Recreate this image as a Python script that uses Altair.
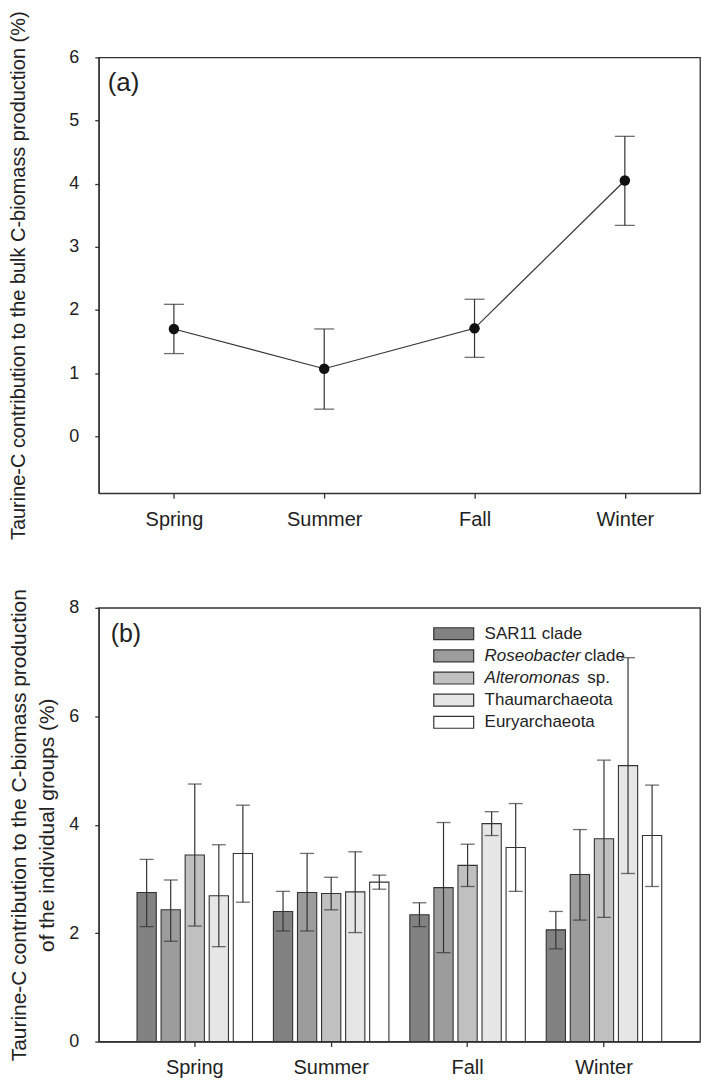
import altair as alt
import pandas as pd

# ---------------- data ----------------
seasons = ["Spring", "Summer", "Fall", "Winter"]

# panel (a): bulk contribution
bulk_mean = [1.70, 1.07, 1.71, 4.05]
bulk_low = [1.31, 0.43, 1.25, 3.34]
bulk_high = [2.09, 1.70, 2.17, 4.75]

# panel (b): individual groups
groups = ["SAR11 clade", "Roseobacter clade", "Alteromonas sp.", "Thaumarchaeota", "Euryarchaeota"]
italic_part = ["", "Roseobacter", "Alteromonas", "", ""]
plain_part = ["SAR11 clade", "clade", "sp.", "Thaumarchaeota", "Euryarchaeota"]
group_colors = ["#828282", "#9c9c9c", "#c0c0c0", "#e6e6e6", "#ffffff"]

sar11_mean = [2.75, 2.40, 2.34, 2.06]
sar11_low = [2.12, 2.04, 2.12, 1.71]
sar11_high = [3.36, 2.77, 2.56, 2.40]
roseo_mean = [2.43, 2.75, 2.84, 3.08]
roseo_low = [1.85, 2.04, 1.64, 2.24]
roseo_high = [2.98, 3.47, 4.04, 3.91]
altero_mean = [3.44, 2.73, 3.25, 3.74]
altero_low = [2.13, 2.43, 2.86, 2.29]
altero_high = [4.75, 3.03, 3.64, 5.19]
thaum_mean = [2.69, 2.76, 4.02, 5.09]
thaum_low = [1.75, 2.01, 3.80, 3.10]
thaum_high = [3.63, 3.50, 4.24, 7.08]
eury_mean = [3.47, 2.94, 3.58, 3.80]
eury_low = [2.57, 2.81, 2.77, 2.86]
eury_high = [4.36, 3.07, 4.39, 4.73]

group_means = [sar11_mean, roseo_mean, altero_mean, thaum_mean, eury_mean]
group_lows = [sar11_low, roseo_low, altero_low, thaum_low, eury_low]
group_highs = [sar11_high, roseo_high, altero_high, thaum_high, eury_high]

# ---------------- tables ----------------
df_a = pd.DataFrame({"season": seasons, "mean": bulk_mean, "low": bulk_low, "high": bulk_high})

rows = []
for g, m, lo, hi in zip(groups, group_means, group_lows, group_highs):
    for s, mv, lv, hv in zip(seasons, m, lo, hi):
        rows.append({"season": s, "group": g, "mean": mv, "low": lv, "high": hv})
df_b = pd.DataFrame(rows)

df_leg = pd.DataFrame({"group": groups, "italic": italic_part, "plain": plain_part})

FONT = "Liberation Sans"
INK = "#333333"
W = 603

# ---------------- panel (a) ----------------
title_a = "Taurine-C contribution to the bulk C-biomass production (%)"
HA = 437


def ya(field):
    return alt.Y(
        f"{field}:Q",
        scale=alt.Scale(domain=[-0.9, 6], nice=False, zero=False),
        axis=alt.Axis(values=[0, 1, 2, 3, 4, 5, 6], title=title_a, titlePadding=40,
                      titleFontSize=20, labelFontSize=18, tickSize=4,
                      labelPadding=16),
    )


xa = alt.X(
    "season:N", sort=seasons,
    scale=alt.Scale(type="point", padding=0.5),
    axis=alt.Axis(title=None, labelAngle=0, labelFontSize=20, tickSize=5, labelPadding=11),
)

base_a = alt.Chart(df_a)
line_a = base_a.mark_line(color=INK, strokeWidth=1.2).encode(x=xa, y=ya("mean"))
err_a = base_a.mark_rule(color=INK, strokeWidth=1.2).encode(x=xa, y=ya("low"), y2="high:Q")
cap_lo_a = base_a.mark_tick(color=INK, thickness=1.3, size=20, orient="horizontal").encode(x=xa, y=ya("low"))
cap_hi_a = base_a.mark_tick(color=INK, thickness=1.3, size=20, orient="horizontal").encode(x=xa, y=ya("high"))
pts_a = base_a.mark_circle(color="#111111", opacity=1, size=110).encode(x=xa, y=ya("mean"))
lab_a = alt.Chart(pd.DataFrame({"t": ["(a)"]})).mark_text(
    align="left", baseline="middle", fontSize=26, font=FONT, color="#222"
).encode(x=alt.value(9), y=alt.value(26), text="t:N")

panel_a = alt.layer(line_a, err_a, cap_lo_a, cap_hi_a, pts_a, lab_a).properties(width=W, height=HA)

# ---------------- panel (b) ----------------
title_b = ["Taurine-C contribution to the C-biomass production", "of the individual groups (%)"]


def yb(field, show=True):
    return alt.Y(
        f"{field}:Q",
        scale=alt.Scale(domain=[0, 8], nice=False),
        axis=alt.Axis(values=[0, 2, 4, 6, 8], title=title_b, titlePadding=11,
                      titleFontSize=21, titleLineHeight=28, labelFontSize=18,
                      tickSize=4, labelPadding=16) if show else None,
    )


xb = alt.X(
    "season:N", sort=seasons,
    scale=alt.Scale(paddingInner=0.118, paddingOuter=0.263),
    axis=alt.Axis(title=None, labelAngle=0, labelFontSize=20, tickSize=5, labelPadding=11),
)
xo = alt.XOffset("group:N", sort=groups, scale=alt.Scale(paddingInner=0.2, paddingOuter=0.1))
col = alt.Color("group:N", scale=alt.Scale(domain=groups, range=group_colors), legend=None)

base_b = alt.Chart(df_b)
bars = base_b.mark_bar(stroke=INK, strokeWidth=1.1).encode(x=xb, xOffset=xo, y=yb("mean"), color=col)
err_b = base_b.mark_rule(color=INK, strokeWidth=1.2).encode(x=xb, xOffset=xo, y=yb("low"), y2="high:Q")
cap_lo_b = base_b.mark_tick(color=INK, thickness=1.3, size=14, orient="horizontal").encode(
    x=xb, xOffset=xo, y=yb("low"))
cap_hi_b = base_b.mark_tick(color=INK, thickness=1.3, size=14, orient="horizontal").encode(
    x=xb, xOffset=xo, y=yb("high"))
data_layers = alt.layer(bars, err_b, cap_lo_b, cap_hi_b)

# legend drawn inside the panel
leg_y = alt.Y("group:N", sort=groups, axis=None,
              scale=alt.Scale(range=[20, 120.8], paddingInner=0.46, paddingOuter=0))
leg_yc = alt.Y("group:N", sort=groups, axis=None, bandPosition=0.5,
               scale=alt.Scale(range=[20, 120.8], paddingInner=0.46, paddingOuter=0))
leg_base = alt.Chart(df_leg)
leg_rect = leg_base.mark_rect(stroke=INK, strokeWidth=1.2).encode(
    x=alt.value(336), x2=alt.value(376), y=leg_y, color=col)
leg_plain = leg_base.transform_filter("datum.italic == ''").mark_text(
    align="left", baseline="middle", fontSize=17, font=FONT, color="#222").encode(
    x=alt.value(387), y=leg_yc, text="plain:N")
leg_ital = leg_base.transform_filter("datum.italic != ''").mark_text(
    align="left", baseline="middle", fontSize=17, font=FONT, fontStyle="italic", color="#222").encode(
    x=alt.value(387), y=leg_yc, text="italic:N")
leg_suf1 = leg_base.transform_filter("datum.group == 'Roseobacter clade'").mark_text(
    align="left", baseline="middle", fontSize=17, font=FONT, color="#222").encode(
    x=alt.value(487), y=leg_yc, text="plain:N")
leg_suf2 = leg_base.transform_filter("datum.group == 'Alteromonas sp.'").mark_text(
    align="left", baseline="middle", fontSize=17, font=FONT, color="#222").encode(
    x=alt.value(490), y=leg_yc, text="plain:N")
lab_b = alt.Chart(pd.DataFrame({"t": ["(b)"]})).mark_text(
    align="left", baseline="middle", fontSize=25, font=FONT, color="#222"
).encode(x=alt.value(12), y=alt.value(26), text="t:N")

legend_layers = alt.layer(leg_rect, leg_plain, leg_ital, leg_suf1, leg_suf2, lab_b)

panel_b = alt.layer(data_layers, legend_layers).resolve_scale(y="independent").properties(
    width=W, height=435)

chart = alt.vconcat(panel_a, panel_b, spacing=46).properties(
    padding={"left": 0, "top": 0, "right": 0, "bottom": 0}
).configure_view(
    stroke=INK, strokeWidth=1.3
).configure_axis(
    grid=False, domainColor=INK, domainWidth=1.3, tickColor=INK, tickWidth=1.3,
    labelColor="#222", titleColor="#222", labelFont=FONT, titleFont=FONT,
    titleFontWeight="normal"
)

chart.save("out.html", embed_options={"renderer": "svg", "actions": False})
